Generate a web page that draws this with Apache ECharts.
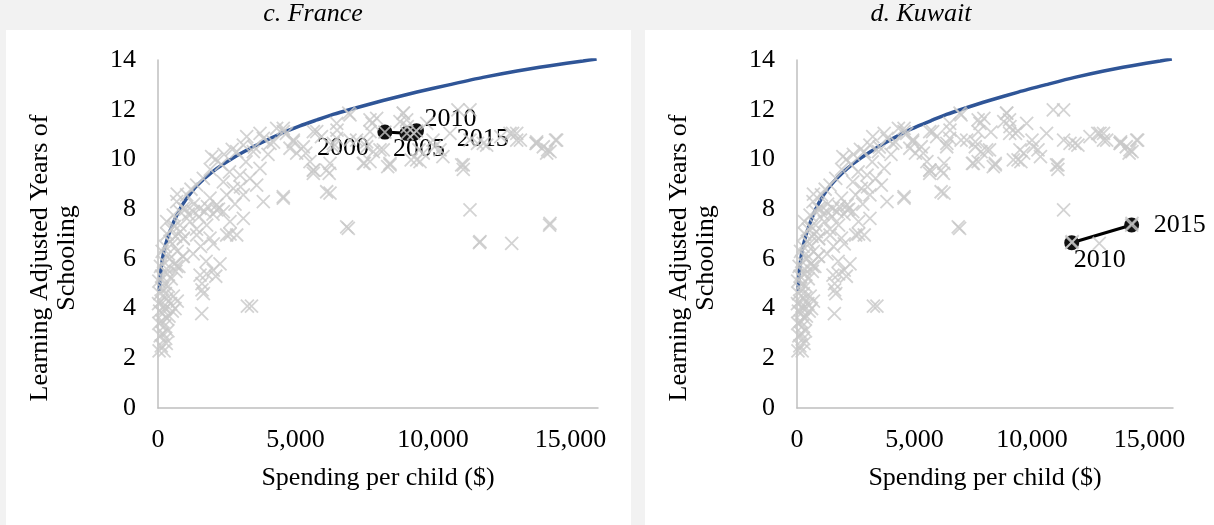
<!DOCTYPE html>
<html>
<head>
<meta charset="utf-8">
<script src="https://cdn.jsdelivr.net/npm/echarts@6/dist/echarts.min.js"></script>
<style>
  html, body { margin: 0; padding: 0; background: #f2f2f2; }
  #chart { width: 1214px; height: 525px; }
</style>
</head>
<body>
<div id="chart"></div>
<script>
// ---- data -------------------------------------------------------------
const panelTitles = ['c. France', 'd. Kuwait'];
const yAxisTitle = 'Learning Adjusted Years of\nSchooling';
const xAxisTitle = 'Spending per child ($)';
const xTickValues = [0, 5000, 10000, 15000];
const yTickValues = [0, 2, 4, 6, 8, 10, 12, 14];

// efficiency frontier (spending per child, learning-adjusted years)
const frontierSpend = [47, 91, 145, 218, 327, 436, 618, 909, 1273, 1709, 2145, 2727, 3345, 3964, 4545,
                       5164, 5782, 6364, 6982, 8182, 9418, 10618, 11818, 13055, 14255, 15455, 15950];
const frontierLays  = [4.71, 5.35, 5.87, 6.32, 6.76, 7.12, 7.60, 8.21, 8.77, 9.25, 9.64, 10.06, 10.44, 10.78, 11.08,
                       11.35, 11.59, 11.81, 12.01, 12.37, 12.71, 13.01, 13.30, 13.56, 13.77, 13.96, 14.04];

// highlighted countries over time
const franceYears = ['2000', '2005', '2010', '2015'];
const franceSpend = [8250, 9050, 9400, 9300];
const franceLays  = [11.1, 11.05, 11.15, 11.05];

const kuwaitYears = ['2010', '2015'];
const kuwaitSpend = [11690, 14240];
const kuwaitLays  = [6.65, 7.36];

// all country-year observations: [spending per child, learning-adjusted years]
const countryObs = [
  [40,2.3],[120,2.5],[220,2.3],[300,2.6],[80,2.9],[180,3.0],[280,2.8],[360,3.1],[30,3.4],[140,3.5],
  [240,3.3],[330,3.6],[60,3.9],[170,3.8],[260,4.0],[400,3.7],[520,3.9],[20,4.2],[110,4.3],[210,4.1],
  [320,4.4],[460,4.2],[620,4.0],[70,4.6],[160,4.8],[270,4.6],[380,4.9],[560,4.5],[700,4.3],[30,5.1],
  [130,5.3],[230,5.0],[340,5.4],[480,5.2],[650,5.5],[90,5.7],[200,5.9],[310,5.6],[420,6.0],[600,5.8],
  [760,5.7],[150,6.3],[260,6.5],[380,6.2],[520,6.6],[700,6.3],[900,6.1],[330,7.0],[480,7.2],[640,6.9],
  [820,7.1],[436,6.7],[920,6.8],[680,5.7],
  [1590,3.8],[1650,4.6],[1600,4.75],[3250,4.1],[3400,4.1],[2010,5.55],[2255,5.8],[1770,5.4],[1530,5.35],
  [2620,7.0],[2010,6.6],[1280,6.2],[920,6.1],[1600,5.0],[1750,5.9],[2100,5.3],[1550,6.5],
  [4556,8.44],[6255,8.64],[6920,7.23],[5648,9.44],[6255,9.84],[5527,9.91],[6982,11.79],[7588,10.71],
  [7709,9.91],[6497,10.85],[5648,11.12],[4920,10.71],[4556,11.12],[4315,11.25],[4800,10.45],[3830,10.85],
  [3467,10.31],[3103,10.58],[2862,10.31],[1952,10.11],[2982,9.37],[3345,9.24],[3709,9.64],[3588,8.97],
  [3830,8.30],[3103,8.57],[2739,8.84],[2376,9.10],[2497,8.57],[2135,8.17],[1891,8.44],[1648,9.24],
  [1406,8.97],[1042,8.57],[1527,8.03],[2135,7.97],[2376,7.90],[1284,7.90],[920,8.03],[680,8.30],
  [556,7.76],[316,7.50],[800,7.36],[1164,7.50],[1770,7.36],[2618,7.50],[3103,7.63],[2862,6.96],
  [2497,6.96],[1891,6.83],[1406,6.96],[920,6.83],
  [1700,7.9],[1800,8.1],[2000,7.8],[2200,8.0],[1500,7.7],[1300,8.2],[1100,7.8],[1900,9.6],[2100,10.0],
  [2300,9.8],[2600,9.5],[2400,10.2],[1200,8.8],[1000,8.0],[800,7.9],[700,8.6],[600,7.3],[1400,7.2],
  [2800,8.2],[3000,8.9],[3200,9.9],[3500,10.5],[4000,10.2],[4200,10.7],[2700,10.4],
  [4556,11.25],[5771,11.12],[6497,11.45],[7709,11.59],[8920,11.86],[9043,11.59],[10618,11.05],[11345,10.78],
  [11830,10.65],[12800,11.05],[13044,10.78],[13770,10.65],[14012,10.51],[14497,10.78],[14133,10.25],
  [11103,9.78],[11100,9.6],[11345,7.97],[14255,7.43],[6861,7.29],[6133,8.70],[4556,8.50],[6133,9.57],
  [5648,9.57],[7467,9.84],[8436,9.84],[9407,9.98],[10255,10.38],[7588,10.51],[8193,10.38],[6982,10.78],
  [6376,10.65],[5285,10.51],[4920,10.78],[5043,10.25],[4073,10.65],[3709,11.05],[3225,10.92],[10000,10.78],
  [10360,10.11],[9647,10.25],
  [7952,11.65],[8800,11.52],[7709,11.12],[7830,10.31],[8436,9.78],[9527,9.91],[11345,11.99],[11043,9.78],
  [11952,10.58],[13044,11.05],[13770,10.71],[14255,10.31],[11709,6.69],[12862,6.62],
  [10906,11.99],[11617,10.65],[12468,10.92],[12894,11.05],[13178,10.78],[13745,10.65],[14170,10.38],[14455,10.78],
  [8922,11.86],[9773,11.45],[9064,11.32],[7787,11.45],[7220,10.78],[8071,10.38],[9489,10.38],[10057,10.51],
  [9206,9.98],[8353,9.71],[7502,9.84],[6936,11.86],[6511,11.18],[5943,10.92],[6370,10.51],[5660,9.57],
  [6226,9.44],[4668,11.05],[5374,10.25],
  [8250,11.1],[9050,11.05],[9400,11.15],[9300,11.05],[11690,6.65],[14240,7.36]
];

// ---- styling ------------------------------------------------------------
const SERIF = "'Liberation Serif','Times New Roman',serif";
const FS = 26;
const AXIS_GREY = '#bfbfbf';
const CROSS = 'path://M0,0L10,10M10,0L0,10';

// panel geometry
const grids = [
  { left: 158, top: 60, width: 440, height: 348 },
  { left: 797, top: 60, width: 376, height: 348 }
];

// label placement (pixel offsets from the marker centre)
const franceLabelOffset = { '2000': [-42, 16], '2005': [12, 16], '2010': [34, -12], '2015': [69, 6] };
const kuwaitLabelOffset = { '2010': [28, 17], '2015': [48, 0] };

const zip = (a, b) => a.map((v, i) => [v, b[i]]);

function makeXAxis(gridIndex) {
  return {
    gridIndex, type: 'value', min: 0, max: 16000, interval: 5000,
    axisLine: { show: true, onZero: false, lineStyle: { color: AXIS_GREY, width: 1.5 } },
    axisTick: { show: false }, splitLine: { show: false },
    axisLabel: {
      showMaxLabel: false, margin: 19, color: '#000', fontFamily: SERIF, fontSize: FS,
      formatter: v => (xTickValues.includes(v) ? v.toLocaleString('en-US') : '')
    },
    name: xAxisTitle, nameLocation: 'middle', nameGap: 57,
    nameTextStyle: { color: '#000', fontFamily: SERIF, fontSize: FS }
  };
}
function makeYAxis(gridIndex) {
  return {
    gridIndex, type: 'value', min: 0, max: 14, interval: 2,
    axisLine: { show: true, lineStyle: { color: AXIS_GREY, width: 1.5 } },
    axisTick: { show: false }, splitLine: { show: false },
    axisLabel: {
      margin: 22, color: '#000', fontFamily: SERIF, fontSize: FS,
      formatter: v => (yTickValues.includes(v) ? String(v) : '')
    }
  };
}

function frontierSeries(i) {
  return {
    type: 'line', xAxisIndex: i, yAxisIndex: i, z: 2,
    data: zip(frontierSpend, frontierLays), smooth: 0.25,
    showSymbol: false, symbol: 'none', silent: true,
    lineStyle: { color: '#2f5597', width: 3.5 }
  };
}
function cloudSeries(i) {
  return {
    type: 'scatter', xAxisIndex: i, yAxisIndex: i, z: 4,
    data: countryObs, symbol: CROSS, symbolSize: 13, silent: true,
    itemStyle: { color: 'rgba(0,0,0,0)', borderColor: '#c8c8c8', borderWidth: 1.8 }
  };
}
function pathSeries(i, years, spend, lays, offsets) {
  return {
    type: 'line', xAxisIndex: i, yAxisIndex: i, z: 3, silent: true,
    symbol: 'circle', symbolSize: 15, showAllSymbol: true,
    lineStyle: { color: '#000', width: 3 },
    itemStyle: { color: '#111' },
    data: years.map((yr, k) => ({
      value: [spend[k], lays[k]],
      name: yr,
      label: {
        show: true, position: 'inside', offset: offsets[yr],
        formatter: yr, color: '#000', fontFamily: SERIF, fontSize: FS
      }
    }))
  };
}

// rotated two-line y-axis title placed left of each plot
function yTitle(gridIndex) {
  return {
    type: 'text', x: grids[gridIndex].left - 104, y: 258, rotation: Math.PI / 2,
    style: {
      text: yAxisTitle, align: 'center', verticalAlign: 'middle',
      font: FS + 'px ' + SERIF, lineHeight: 27, fill: '#000'
    }
  };
}
function panelTitle(k, x) {
  return {
    type: 'text', x, y: 14,
    style: { text: panelTitles[k], align: 'center', verticalAlign: 'middle', font: 'italic ' + FS + 'px ' + SERIF, fill: '#000' }
  };
}

const chart = echarts.init(document.getElementById('chart'), null, { renderer: 'canvas' });
chart.setOption({
  animation: false,
  backgroundColor: '#f2f2f2',
  graphic: [
    { type: 'rect', shape: { x: 6, y: 30, width: 625, height: 500 }, style: { fill: '#fff' }, z: -10, silent: true },
    { type: 'rect', shape: { x: 645, y: 30, width: 580, height: 500 }, style: { fill: '#fff' }, z: -10, silent: true },
    panelTitle(0, 313),
    panelTitle(1, 921),
    yTitle(0),
    yTitle(1)
  ],
  grid: grids,
  xAxis: [makeXAxis(0), makeXAxis(1)],
  yAxis: [makeYAxis(0), makeYAxis(1)],
  series: [
    frontierSeries(0),
    pathSeries(0, franceYears, franceSpend, franceLays, franceLabelOffset),
    cloudSeries(0),
    frontierSeries(1),
    pathSeries(1, kuwaitYears, kuwaitSpend, kuwaitLays, kuwaitLabelOffset),
    cloudSeries(1)
  ]
});
</script>
</body>
</html>
